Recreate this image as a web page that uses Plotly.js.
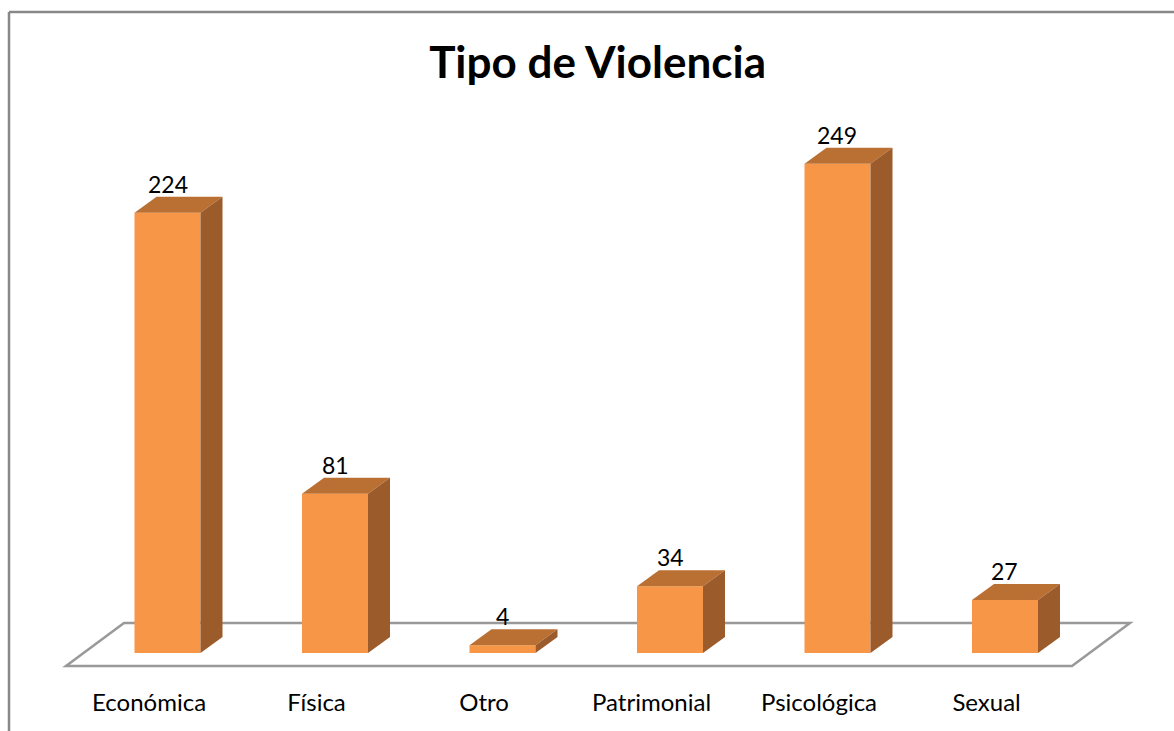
<!DOCTYPE html>
<html>
<head>
<meta charset="utf-8">
<script src="https://cdn.plot.ly/plotly-3.0.1.min.js"></script>
<style>
  body { margin: 0; background: #fff; }
  #chart { width: 1174px; height: 731px; }
</style>
</head>
<body>
<div id="chart"></div>
<script>
var categories = ["Económica", "Física", "Otro", "Patrimonial", "Psicológica", "Sexual"];
var values = [224, 81, 4, 34, 249, 27];

var W = 1174, H = 731;
var margin = { l: 0, r: 0, t: 100, b: 51 };
var xRange = [-1, 6.009];
var yRange = [-13.74, 281.4];
var barWidth = 0.394;

// 3D depth offset in pixels, converted to axis units
var plotW = W - margin.l - margin.r;
var plotH = H - margin.t - margin.b;
var xPer = (xRange[1] - xRange[0]) / plotW;
var yPer = (yRange[1] - yRange[0]) / plotH;
var dx = 22 * xPer;
var dy = 16 * yPer;

var front = "#F79646";
var topColor = "#BA6F33";
var sideColor = "#9B5B2B";

var xs = categories.map(function (c, i) { return i; });

var trace = {
  type: "bar",
  x: xs,
  y: values,
  width: barWidth,
  marker: { color: front, line: { width: 0 } },
  hoverinfo: "skip",
};

var shapes = [];
// floor
var fl0 = -0.606, fl1 = 5.4;
var floorFront = -13 * yPer;
var floorDx = 58 * xPer;
var floorDy = 43 * yPer;
shapes.push({
  type: "path", xref: "x", yref: "y", layer: "below",
  path: "M" + fl0 + "," + floorFront + " L" + fl1 + "," + floorFront +
    " L" + (fl1 + floorDx) + "," + (floorFront + floorDy) +
    " L" + (fl0 + floorDx) + "," + (floorFront + floorDy) + " Z",
  line: { color: "#999999", width: 2.5 },
  fillcolor: "rgba(0,0,0,0)",
});

var annotations = [];
values.forEach(function (v, i) {
  var xl = i - barWidth / 2, xr = i + barWidth / 2;
  shapes.push({
    type: "path", xref: "x", yref: "y", layer: "above",
    path: "M" + xl + "," + v + " L" + xr + "," + v + " L" + (xr + dx) + "," + (v + dy) +
      " L" + (xl + dx) + "," + (v + dy) + " Z",
    fillcolor: topColor, line: { width: 0 },
  });
  shapes.push({
    type: "path", xref: "x", yref: "y", layer: "above",
    path: "M" + xr + ",0 L" + xr + "," + v + " L" + (xr + dx) + "," + (v + dy) +
      " L" + (xr + dx) + "," + dy + " Z",
    fillcolor: sideColor, line: { width: 0 },
  });
  annotations.push({
    x: i, y: v + dy, xref: "x", yref: "y",
    text: String(v), showarrow: false, yanchor: "bottom", yshift: -3,
    font: { family: "Lato", size: 23, color: "#000" },
  });
});

// chart border (only top and left edges show)
var bx = 9 / plotW;
var by = 1 + (margin.t - 12) / plotH;
shapes.push({
  type: "line", xref: "paper", yref: "paper", layer: "above",
  x0: bx, x1: bx, y0: -margin.b / plotH, y1: by,
  line: { color: "#888888", width: 2.5 },
});
shapes.push({
  type: "line", xref: "paper", yref: "paper", layer: "above",
  x0: bx, x1: 1, y0: by, y1: by,
  line: { color: "#888888", width: 2.5 },
});

var layout = {
  width: W,
  height: H,
  margin: margin,
  paper_bgcolor: "#fff",
  plot_bgcolor: "rgba(0,0,0,0)",
  showlegend: false,
  title: {
    text: "<b>Tipo de Violencia</b>",
    font: { family: "Lato", size: 44, color: "#000" },
    x: 0.509, xanchor: "center", y: 0.915, yanchor: "middle",
  },
  xaxis: {
    range: xRange,
    tickvals: xs.map(function (i) { return i - 0.11; }),
    ticktext: categories,
    showgrid: false, zeroline: false, showline: false,
    ticks: "", ticklabelstandoff: 6,
    tickfont: { family: "Lato", size: 24, color: "#000" },
  },
  yaxis: {
    range: yRange,
    visible: false,
  },
  shapes: shapes,
  annotations: annotations,
};

Plotly.newPlot("chart", [trace], layout, { displayModeBar: false, staticPlot: true });
</script>
</body>
</html>
